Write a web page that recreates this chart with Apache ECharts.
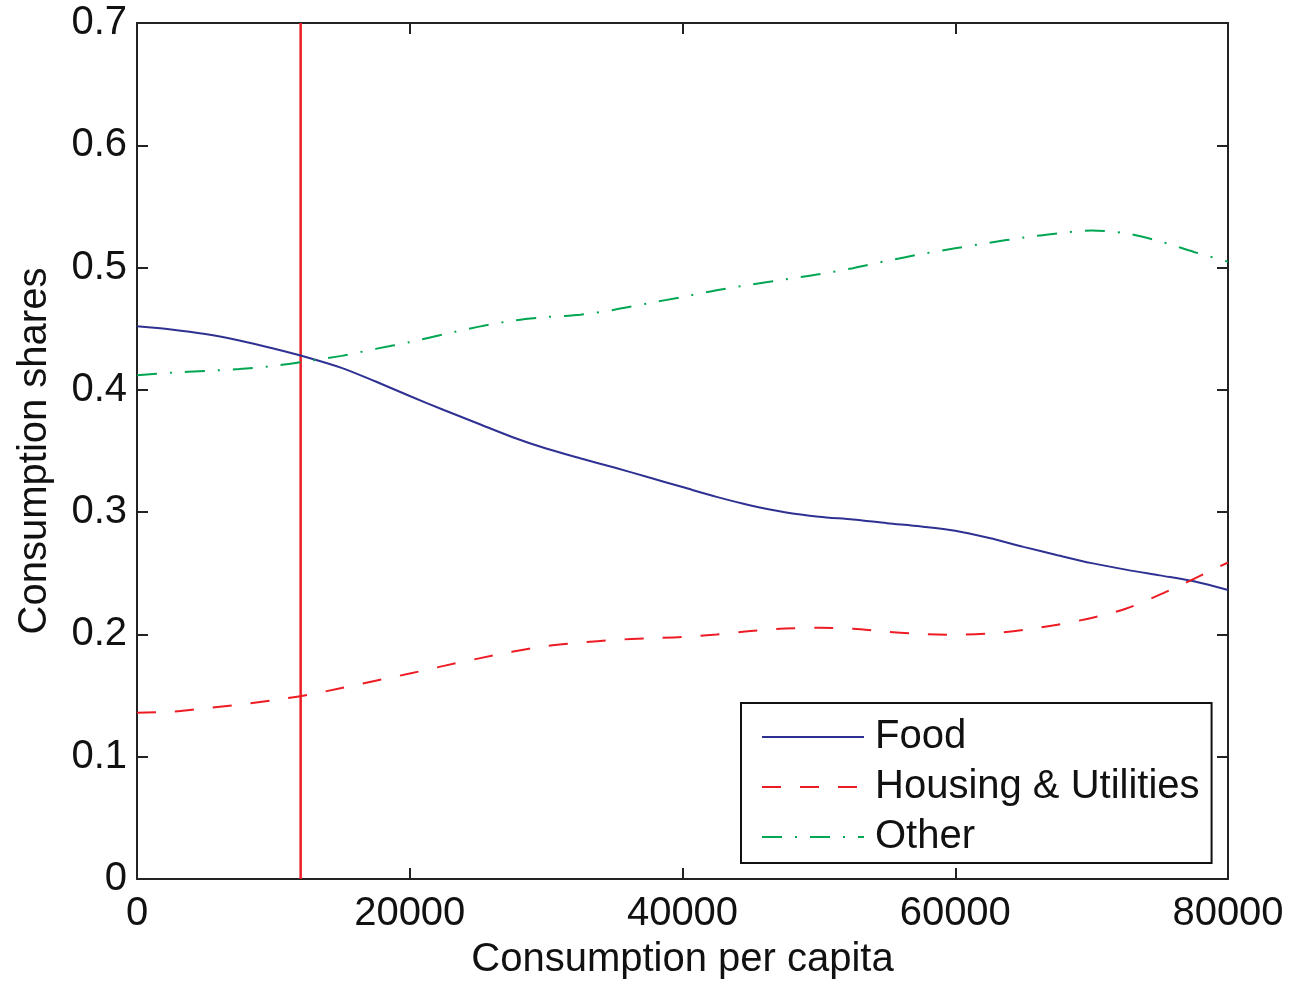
<!DOCTYPE html>
<html>
<head>
<meta charset="utf-8">
<script src="https://cdn.jsdelivr.net/npm/echarts@6/dist/echarts.min.js"></script>
<style>
html,body{margin:0;padding:0;background:#fff;}
#chart{width:1293px;height:982px;}
</style>
</head>
<body>
<div id="chart"></div>
<script>
var xValues = [0,2500,5000,7500,10000,12500,15000,17500,20000,22500,25000,27500,30000,32500,35000,37500,40000,42500,45000,47500,50000,52500,55000,57500,60000,62500,65000,67500,70000,72500,75000,77500,80000];
var food = [0.452,0.4494,0.4457,0.4404,0.4338,0.4265,0.418,0.4068,0.395,0.3835,0.3725,0.3615,0.352,0.344,0.3365,0.3285,0.3205,0.3125,0.3055,0.3,0.2963,0.294,0.291,0.2883,0.2848,0.2788,0.2716,0.2648,0.2583,0.253,0.2483,0.2435,0.2363];
var housing = [0.136,0.1368,0.1397,0.1425,0.1462,0.1505,0.1562,0.1622,0.168,0.1743,0.1802,0.1858,0.1905,0.1933,0.1955,0.1968,0.198,0.2,0.2028,0.2048,0.2055,0.2047,0.2022,0.2003,0.1997,0.2008,0.2037,0.208,0.2135,0.221,0.2325,0.2455,0.2588];
var other = [0.412,0.414,0.4155,0.417,0.4195,0.4235,0.4278,0.4335,0.439,0.4455,0.4515,0.4565,0.4595,0.4615,0.4655,0.4708,0.476,0.4815,0.486,0.4903,0.4945,0.4995,0.5055,0.511,0.5158,0.5203,0.5245,0.528,0.5303,0.528,0.5215,0.5128,0.5048];
var cutoffX = 12000;
var cutoffY = [0, 0.7];
var seriesNames = ['Food', 'Housing & Utilities', 'Other'];
var xTitle = 'Consumption per capita';
var yTitle = 'Consumption shares';

function pairs(xs, ys){ return xs.map(function(x,i){ return [x, ys[i]]; }); }

var FONT = 'Liberation Sans, Arial, Helvetica, sans-serif';
var AX = '#222222';
function axLine(){ return {show:true, onZero:false, lineStyle:{color:AX, width:2}}; }
function axTick(){ return {show:true, inside:true, length:11, lineStyle:{color:AX, width:2}}; }

var chart = echarts.init(document.getElementById('chart'), null, {renderer:'canvas'});
chart.setOption({
  animation:false,
  backgroundColor:'#ffffff',
  grid:{left:137, right:65, top:23, bottom:103, containLabel:false, outerBoundsMode:'none'},
  legend:{
    data:seriesNames,
    orient:'vertical',
    left:741, top:703,
    padding:[14,12,6,20],
    itemWidth:102, itemHeight:14, itemGap:10,
    borderColor:'#111', borderWidth:2, backgroundColor:'#fff',
    itemStyle:{opacity:0},
    textStyle:{fontFamily:FONT, fontSize:40, color:'#111', padding:[0,0,0,6]},
    selectedMode:false
  },
  xAxis:[{
    type:'value', min:0, max:80000, interval:20000, position:'bottom',
    name:xTitle, nameLocation:'middle', nameGap:61,
    nameTextStyle:{fontFamily:FONT, fontSize:40, color:'#111'},
    axisLine:axLine(), axisTick:axTick(), splitLine:{show:false},
    axisLabel:{fontFamily:FONT, fontSize:40, color:'#111', margin:15, formatter:function(v){return String(v);}}
  },{
    type:'value', min:0, max:80000, interval:20000, position:'top',
    axisLine:axLine(), axisTick:axTick(), splitLine:{show:false}, axisLabel:{show:false}
  }],
  yAxis:[{
    type:'value', min:0, max:0.7, interval:0.1, position:'left',
    name:yTitle, nameLocation:'middle', nameGap:82,
    nameTextStyle:{fontFamily:FONT, fontSize:40, color:'#111'},
    axisLine:axLine(), axisTick:axTick(), splitLine:{show:false},
    axisLabel:{fontFamily:FONT, fontSize:40, color:'#111', margin:10, formatter:function(v){return v===0?'0':v.toFixed(1);}}
  },{
    type:'value', min:0, max:0.7, interval:0.1, position:'right',
    axisLine:axLine(), axisTick:axTick(), splitLine:{show:false}, axisLabel:{show:false}
  }],
  series:[
    {name:'frame', type:'line', xAxisIndex:1, yAxisIndex:1, data:[], symbol:'none', silent:true},
    {name:'cutoff', type:'line', data:pairs([cutoffX,cutoffX], cutoffY), symbol:'none', silent:true,
     lineStyle:{color:'#ee1c25', width:2.5}, z:1},
    {name:seriesNames[0], type:'line', data:pairs(xValues, food), symbol:'none', smooth:0.3,
     color:'#2e3192', lineStyle:{color:'#2e3192', width:2}, z:3},
    {name:seriesNames[1], type:'line', data:pairs(xValues, housing), symbol:'none', smooth:0.3,
     color:'#ed1c24', lineStyle:{color:'#ed1c24', width:2, type:[19,19]}, z:3},
    {name:seriesNames[2], type:'line', data:pairs(xValues, other), symbol:'none', smooth:0.3,
     color:'#00a651', lineStyle:{color:'#00a651', width:2, type:[20,13,2,13]}, z:3}
  ]
});
</script>
</body>
</html>
